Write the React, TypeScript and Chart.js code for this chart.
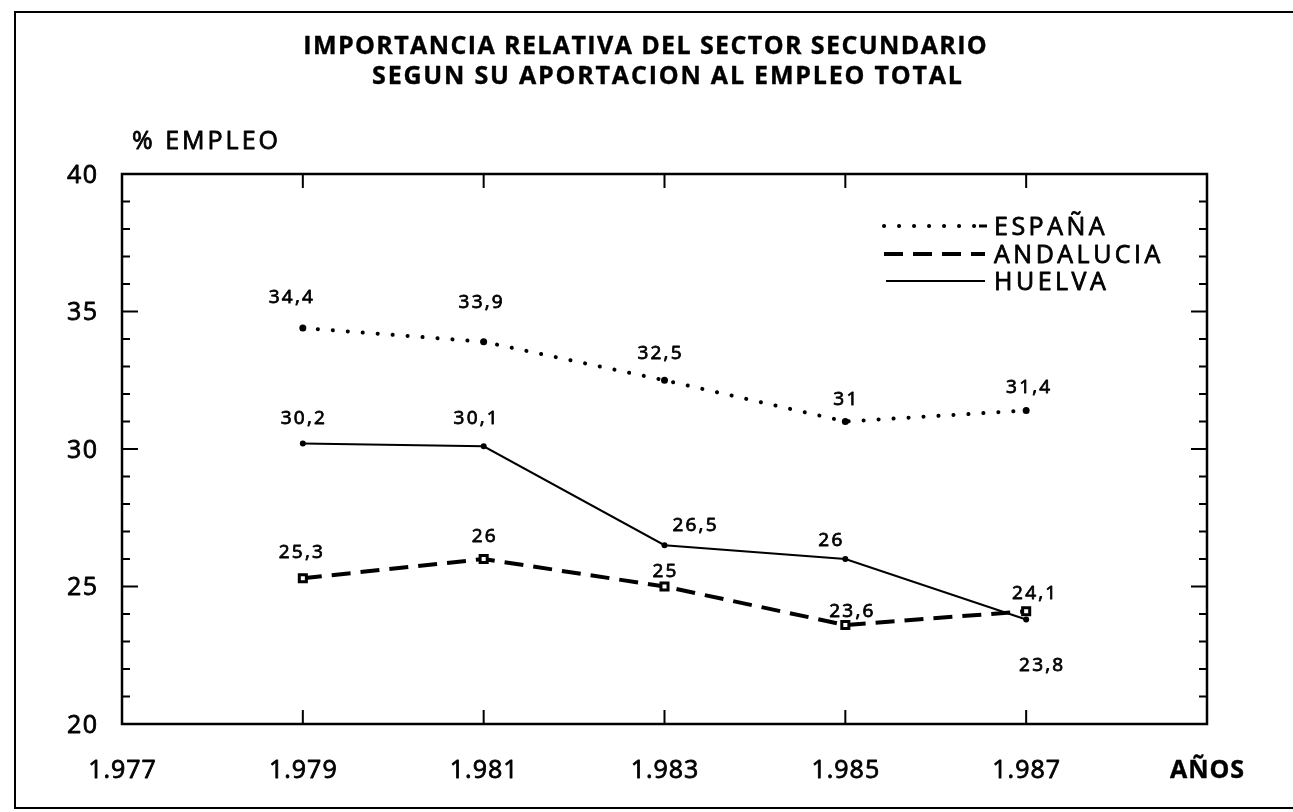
import React, { useEffect, useRef } from 'react';
import { Chart, registerables } from 'chart.js';
Chart.register(...registerables);

const years = [1979, 1981, 1983, 1985, 1987];
const espana = [34.4, 33.9, 32.5, 31, 31.4];
const andalucia = [25.3, 26, 25, 23.6, 24.1];
const huelva = [30.2, 30.1, 26.5, 26, 23.8];
const xTickValues = [1977, 1979, 1981, 1983, 1985, 1987, 1989];
const yTickValues = [20, 25, 30, 35, 40];
const seriesNames = ['ESPAÑA', 'ANDALUCIA', 'HUELVA'];
const titleLines = ['IMPORTANCIA RELATIVA DEL SECTOR SECUNDARIO', 'SEGUN SU APORTACION AL EMPLEO TOTAL'];
const yAxisTitle = '% EMPLEO';
const xAxisTitle = 'AÑOS';

// label placement (text centre offset from the point, px)
const labelOffsets: number[][][] = [
  [[-12, -32], [-3, -41], [-5, -28], [0, -23], [2, -24]],
  [[-2, -27], [0, -24], [0, -16], [6, -15], [8, -19]],
  [[0, -26], [-8, -29], [30, -21], [-15, -20], [15, 45]],
];

const FONT = '"Open Sans", "Noto Sans", sans-serif';
const CAP = 0.714;

function drawText(ctx: CanvasRenderingContext2D, text: string, x: number, yCenter: number, size: number, bold: boolean, spacing: number, align: 'left' | 'center' | 'right') {
  ctx.save();
  ctx.font = `${bold ? 'bold ' : ''}${size}px ${FONT}`;
  (ctx as any).letterSpacing = `${spacing}px`;
  ctx.textBaseline = 'alphabetic';
  ctx.textAlign = 'left';
  ctx.fillStyle = '#000';
  ctx.strokeStyle = '#000';
  ctx.lineJoin = 'round';
  const w = ctx.measureText(text).width - spacing;
  let x0 = x;
  if (align === 'center') x0 = x - w / 2;
  else if (align === 'right') x0 = x - w;
  const yb = yCenter + (size * CAP) / 2;
  ctx.fillText(text, x0, yb);
  ctx.lineWidth = bold ? 0.4 : 0.8;
  ctx.strokeText(text, x0, yb);
  ctx.restore();
}

const fmt = (v: number) => String(v).replace('.', ',');
const fmtYear = (v: number) => String(v).replace(/(\d)(\d{3})$/, '$1.$2');

const lineStyles = [
  { width: 4, dash: [0.1, 14.9], cap: 'round' as CanvasLineCap },
  { width: 4, dash: [19, 10], cap: 'butt' as CanvasLineCap },
  { width: 2, dash: [] as number[], cap: 'butt' as CanvasLineCap },
];

const decor = {
  id: 'decor',
  beforeDatasetsDraw(chart: any) {
    const ctx: CanvasRenderingContext2D = chart.ctx;
    const { left, right, top, bottom } = chart.chartArea;
    const xs = chart.scales.x;
    const ys = chart.scales.y;
    ctx.save();
    ctx.strokeStyle = '#000';
    // outer frame
    ctx.lineWidth = 2;
    ctx.strokeRect(15, 12, 1400, 796);
    // plot frame
    ctx.lineWidth = 2.5;
    ctx.strokeRect(left, top, right - left, bottom - top);
    // y ticks
    ctx.lineWidth = 2;
    for (let v = ys.min; v <= ys.max; v += 1) {
      const y = ys.getPixelForValue(v);
      const len = v % 5 === 0 ? 16 : 8;
      ctx.beginPath();
      ctx.moveTo(left, y); ctx.lineTo(left + len, y);
      ctx.moveTo(right, y); ctx.lineTo(right - len, y);
      ctx.stroke();
    }
    // x ticks
    xTickValues.slice(1, -1).forEach((v) => {
      const x = xs.getPixelForValue(v);
      ctx.beginPath();
      ctx.moveTo(x, top); ctx.lineTo(x, top + 14);
      ctx.moveTo(x, bottom); ctx.lineTo(x, bottom - 14);
      ctx.stroke();
    });
    ctx.restore();

    // title
    drawText(ctx, titleLines[0], 645, 45, 25, true, 1.4, 'center');
    drawText(ctx, titleLines[1], 667, 75, 25, true, 1.8, 'center');
    drawText(ctx, yAxisTitle, 132, 140, 25, false, 3, 'left');
    yTickValues.forEach((v) => drawText(ctx, String(v), 97, ys.getPixelForValue(v), 25, false, 1.5, 'right'));
    xTickValues.forEach((v, i) => {
      const last = i === xTickValues.length - 1;
      drawText(ctx, last ? xAxisTitle : fmtYear(v), xs.getPixelForValue(v), 769, 25, last, 1, 'center');
    });
  },
  afterDatasetsDraw(chart: any) {
    const ctx: CanvasRenderingContext2D = chart.ctx;
    chart.data.datasets.forEach((ds: any, i: number) => {
      const meta = chart.getDatasetMeta(i);
      meta.data.forEach((pt: any, j: number) => {
        const [dx, dy] = labelOffsets[i][j];
        drawText(ctx, fmt(ds.data[j].y), pt.x + dx, pt.y + dy, 19, false, 2.2, 'center');
      });
    });
    // legend
    const legendY = [226, 254, 281];
    seriesNames.forEach((name, i) => {
      const st = lineStyles[i];
      ctx.save();
      ctx.strokeStyle = '#000';
      ctx.lineWidth = st.width;
      ctx.setLineDash(st.dash);
      ctx.lineCap = st.cap;
      ctx.beginPath();
      ctx.moveTo(i === 2 ? 886 : 884, legendY[i]);
      ctx.lineTo(i === 0 ? 976 : 985, legendY[i]);
      ctx.stroke();
      if (i === 0) {
        ctx.setLineDash([]);
        ctx.lineCap = 'butt';
        ctx.lineWidth = 3;
        ctx.beginPath();
        ctx.moveTo(979, legendY[i]);
        ctx.lineTo(987, legendY[i]);
        ctx.stroke();
      }
      ctx.restore();
      drawText(ctx, name, 994, legendY[i], 25, false, 3.5, 'left');
    });
  },
};

export default function App() {
  const ref = useRef<HTMLCanvasElement>(null);
  useEffect(() => {
    const prev = document.body.style.margin;
    document.body.style.margin = '0';
    const mk = (vals: number[]) => years.map((x, i) => ({ x, y: vals[i] }));
    const chart = new Chart(ref.current as HTMLCanvasElement, {
      type: 'line',
      data: {
        datasets: [
          {
            label: seriesNames[0], data: mk(espana), borderColor: '#000', borderWidth: lineStyles[0].width,
            borderDash: lineStyles[0].dash, borderCapStyle: 'round', pointRadius: 3.5, pointBackgroundColor: '#000',
            pointBorderWidth: 0, tension: 0, fill: false,
          },
          {
            label: seriesNames[1], data: mk(andalucia), borderColor: '#000', borderWidth: lineStyles[1].width,
            borderDash: lineStyles[1].dash, pointStyle: 'rect', pointRadius: 5, pointBackgroundColor: '#fff',
            pointBorderColor: '#000', pointBorderWidth: 3, tension: 0, fill: false,
          },
          {
            label: seriesNames[2], data: mk(huelva), borderColor: '#000', borderWidth: lineStyles[2].width,
            pointRadius: 3, pointBackgroundColor: '#000', pointBorderWidth: 0, tension: 0, fill: false,
          },
        ] as any,
      },
      options: {
        responsive: false,
        animation: false,
        layout: { padding: { left: 122, right: 86, top: 174, bottom: 88 } },
        plugins: { legend: { display: false }, title: { display: false }, tooltip: { enabled: false } },
        scales: {
          x: { type: 'linear', min: 1977, max: 1989, display: false },
          y: { type: 'linear', min: 20, max: 40, display: false },
        },
      } as any,
      plugins: [decor],
    });
    return () => {
      chart.destroy();
      document.body.style.margin = prev;
    };
  }, []);
  return (
    <div style={{ width: 1293, height: 812 }}>
      <canvas ref={ref} width={1293} height={812} style={{ display: 'block' }} />
    </div>
  );
}
